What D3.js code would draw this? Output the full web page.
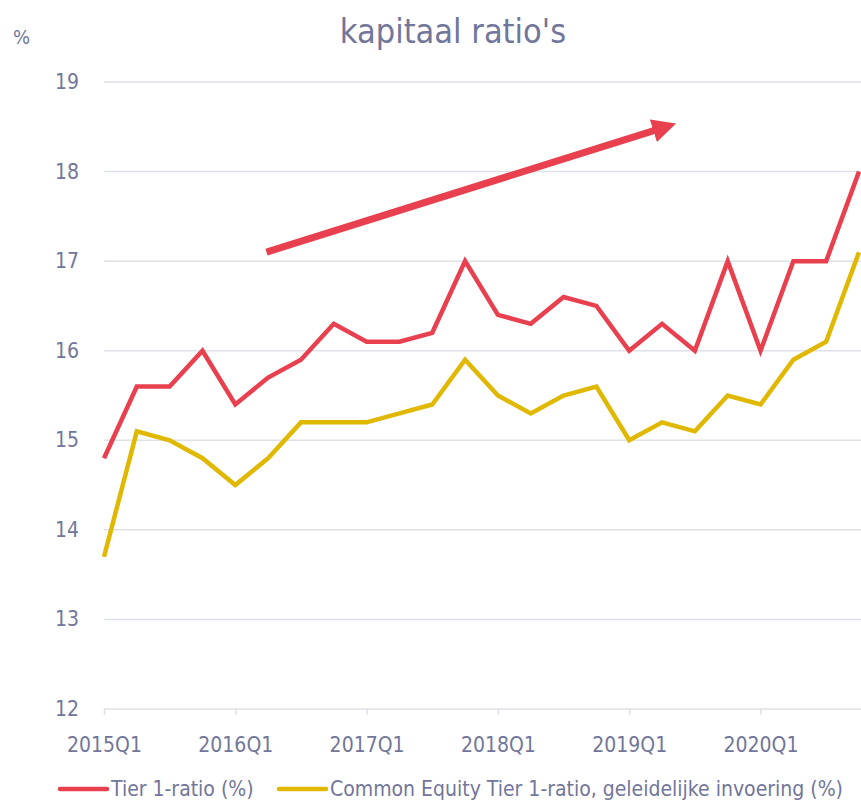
<!DOCTYPE html>
<html>
<head>
  <meta charset="utf-8">
  <script src="https://d3js.org/d3.v7.min.js"></script>
  <style>
    body { margin: 0; background: #fff; }
    text { font-family: "Liberation Sans Narrow", "DejaVu Sans Condensed", sans-serif; fill: #72769a; }
  </style>
</head>
<body>
<div id="vis"></div>
<script>
  // quarters 2015Q1 .. 2020Q4
  var quarters = [];
  for (var yr = 2015; yr <= 2020; yr++) {
    for (var q = 1; q <= 4; q++) quarters.push(yr + 'Q' + q);
  }

  var tier1 = [14.8, 15.6, 15.6, 16.0, 15.4, 15.7, 15.9, 16.3, 16.1, 16.1, 16.2, 17.0,
               16.4, 16.3, 16.6, 16.5, 16.0, 16.3, 16.0, 17.0, 16.0, 17.0, 17.0, 18.0];
  var cet1 = [13.7, 15.1, 15.0, 14.8, 14.5, 14.8, 15.2, 15.2, 15.2, 15.3, 15.4, 15.9,
              15.5, 15.3, 15.5, 15.6, 15.0, 15.2, 15.1, 15.5, 15.4, 15.9, 16.1, 17.1];

  var yTicks = [12, 13, 14, 15, 16, 17, 18, 19];
  var xTickLabels = ['2015Q1', '2016Q1', '2017Q1', '2018Q1', '2019Q1', '2020Q1'];

  var series = [
    { name: 'Tier 1-ratio (%)', values: tier1, color: '#e8404e' },
    { name: 'Common Equity Tier 1-ratio, geleidelijke invoering (%)', values: cet1, color: '#e0b800' }
  ];

  // trend arrow (quarter index, value)
  var arrowFrom = [4.95, 17.1];
  var arrowTo = [17.3, 18.52];

  var width = 861, height = 803;
  var margin = { left: 104, right: 2, top: 82, bottom: 94 };

  var svg = d3.select('#vis').append('svg')
    .attr('width', width).attr('height', height);

  var x = d3.scalePoint().domain(quarters).range([margin.left, 859]);
  var xi = d3.scaleLinear().domain([0, quarters.length - 1]).range([margin.left, 859]);
  var y = d3.scaleLinear().domain([12, 19]).range([709, 82]);

  // grid
  svg.append('g').selectAll('line')
    .data(yTicks.filter(d => d > 12)).enter()
    .append('line')
    .attr('x1', margin.left).attr('x2', width)
    .attr('y1', d => y(d)).attr('y2', d => y(d))
    .attr('stroke', '#dfe1e9').attr('stroke-width', 1.5);

  // y labels
  svg.append('g').selectAll('text')
    .data(yTicks).enter()
    .append('text')
    .attr('x', 79).attr('y', d => y(d) + 7)
    .attr('text-anchor', 'end')
    .style('font-size', '21px')
    .text(d => d);

  // x axis
  var xAxis = svg.append('g')
    .attr('transform', 'translate(0,' + y(12) + ')')
    .call(d3.axisBottom(x).tickValues(xTickLabels).tickSize(6).tickSizeOuter(0));
  xAxis.select('.domain').attr('stroke', '#dfe1e9').attr('stroke-width', 1.5)
    .attr('d', 'M' + margin.left + ',0H' + width);
  xAxis.selectAll('.tick line').attr('stroke', '#dfe1e9').attr('stroke-width', 1.5);
  xAxis.selectAll('.tick text')
    .attr('y', 28)
    .style('font-size', '21px')
    .style('font-family', '"Liberation Sans Narrow", "DejaVu Sans Condensed", sans-serif')
    .attr('fill', '#72769a');

  // lines
  var line = d3.line()
    .x((d, i) => x(quarters[i]))
    .y(d => y(d));

  svg.append('g').selectAll('path')
    .data(series.slice().reverse()).enter()
    .append('path')
    .attr('d', d => line(d.values))
    .attr('fill', 'none')
    .attr('stroke', d => d.color)
    .attr('stroke-width', 4.5)
    .attr('stroke-linejoin', 'miter');

  // arrow
  svg.append('defs').append('marker')
    .attr('id', 'head')
    .attr('viewBox', '0 0 10 10')
    .attr('refX', 2).attr('refY', 5)
    .attr('markerWidth', 3.4).attr('markerHeight', 3.4)
    .attr('markerUnits', 'strokeWidth')
    .attr('orient', 'auto')
    .append('path').attr('d', 'M0,0L10,5L0,10Z').attr('fill', '#e8404e');

  svg.append('line')
    .attr('x1', xi(arrowFrom[0])).attr('y1', y(arrowFrom[1]))
    .attr('x2', xi(arrowTo[0]) - 14).attr('y2', y(arrowTo[1]) + 4.3)
    .attr('stroke', '#e8404e').attr('stroke-width', 7)
    .attr('marker-end', 'url(#head)');

  // title and unit
  svg.append('text')
    .attr('x', 453).attr('y', 43)
    .attr('text-anchor', 'middle')
    .style('font-size', '34px')
    .text("kapitaal ratio's");

  svg.append('text')
    .attr('x', 13).attr('y', 44)
    .style('font-size', '20px')
    .text('%');

  // legend
  var legX = [58, 277];
  var leg = svg.append('g').selectAll('g')
    .data(series).enter()
    .append('g')
    .attr('transform', (d, i) => 'translate(' + legX[i] + ',789)');
  leg.append('line')
    .attr('x1', 2).attr('x2', 49)
    .attr('stroke', d => d.color)
    .attr('stroke-width', 4.5)
    .attr('stroke-linecap', 'round');
  leg.append('text')
    .attr('x', 53).attr('y', 7)
    .style('font-size', '21px')
    .text(d => d.name);
</script>
</body>
</html>
